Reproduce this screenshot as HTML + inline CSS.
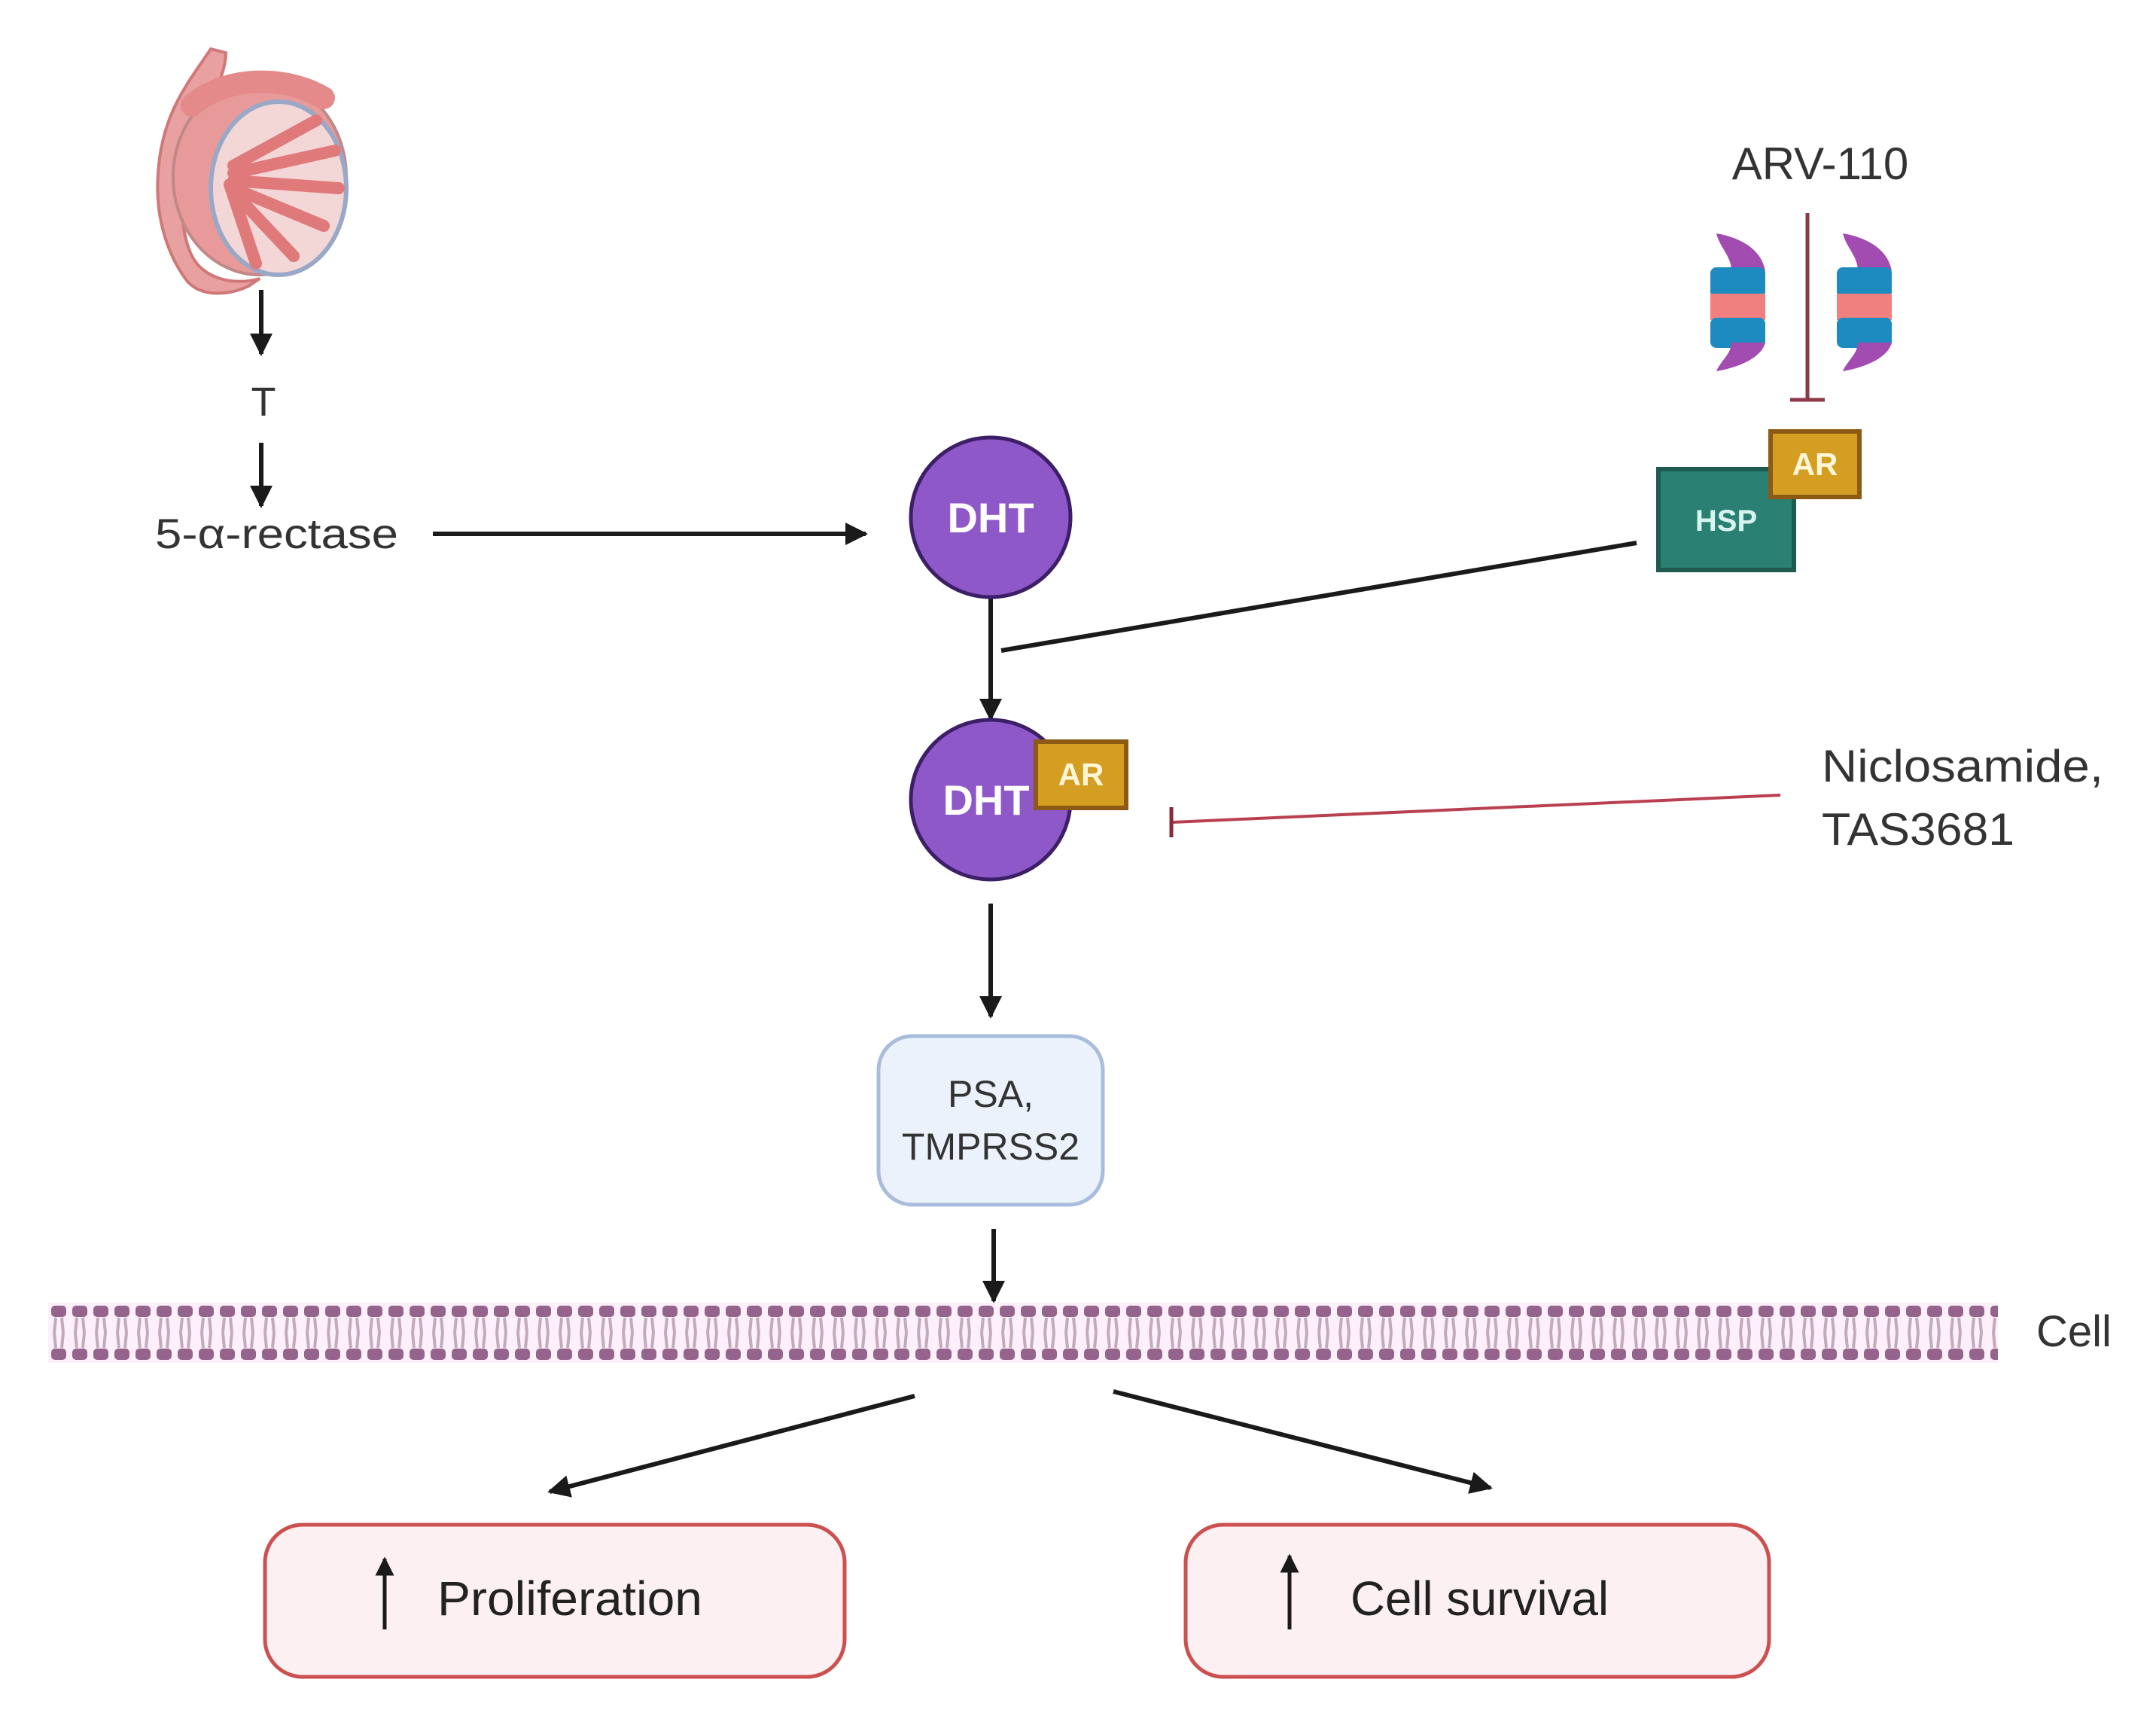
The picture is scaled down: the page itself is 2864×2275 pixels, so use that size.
<!DOCTYPE html>
<html><head><meta charset="utf-8"><style>
html,body{margin:0;padding:0;background:#fff;}
svg{display:block;}
text{font-family:"Liberation Sans",sans-serif;}
</style></head><body>
<svg width="2864" height="2275" viewBox="0 0 2864 2275" xmlns="http://www.w3.org/2000/svg">
<defs>
<marker id="ah" viewBox="0 0 10 10" refX="9" refY="5" markerWidth="5" markerHeight="5" orient="auto" markerUnits="strokeWidth"><path d="M0,0 L10,5 L0,10 z" fill="#1a1a1a"/></marker>
<pattern id="mem" x="64" y="1730" width="28" height="80" patternUnits="userSpaceOnUse">
<rect x="0" y="0" width="28" height="80" fill="#fdf0fa"/>
<rect x="4" y="4" width="20" height="15" rx="5" fill="#94648c"/>
<rect x="4" y="61" width="20" height="15" rx="5" fill="#94648c"/>
<path d="M10,20 L8,40 M18,20 L20,40 M10,60 L8,40 M18,60 L20,40" stroke="#c2aabc" stroke-width="4" fill="none"/>
</pattern>
</defs>

<!-- testis illustration -->
<g>
<path d="M280,65 C250,110 215,150 210,230 C205,300 230,350 250,375 C270,395 305,392 330,380 L345,370 C310,380 270,370 255,340 C235,300 240,230 265,170 C280,130 300,100 300,70 Z" fill="#e8a0a0" stroke="#d07878" stroke-width="4"/>
<ellipse cx="345" cy="235" rx="115" ry="130" fill="#e89a9a" stroke="#c08888" stroke-width="4"/>
<ellipse cx="370" cy="250" rx="90" ry="115" fill="#f3d6d6" stroke="#9aa8c8" stroke-width="6"/>
<g stroke="#e07a7a" stroke-width="16" stroke-linecap="round">
<line x1="310" y1="230" x2="445" y2="200"/><line x1="310" y1="240" x2="450" y2="250"/>
<line x1="310" y1="250" x2="430" y2="300"/><line x1="310" y1="255" x2="390" y2="340"/>
<line x1="310" y1="220" x2="420" y2="160"/><line x1="305" y1="245" x2="340" y2="350"/>
</g>
<path d="M255,140 C300,100 380,100 430,130" stroke="#e48a8a" stroke-width="30" fill="none" stroke-linecap="round"/>
</g>

<!-- arrows -->
<g stroke="#1a1a1a" stroke-width="6" fill="none">
<line x1="347" y1="385" x2="347" y2="470" marker-end="url(#ah)"/>
<line x1="347" y1="588" x2="347" y2="672" marker-end="url(#ah)"/>
<line x1="575" y1="709" x2="1150" y2="709" marker-end="url(#ah)"/>
<line x1="1316" y1="790" x2="1316" y2="955" marker-end="url(#ah)"/>
<line x1="2174" y1="721" x2="1330" y2="864"/>
<line x1="1316" y1="1200" x2="1316" y2="1350" marker-end="url(#ah)"/>
<line x1="1320" y1="1632" x2="1320" y2="1728" marker-end="url(#ah)"/>
<line x1="1215" y1="1854" x2="730" y2="1981" marker-end="url(#ah)"/>
<line x1="1479" y1="1848" x2="1980" y2="1976" marker-end="url(#ah)"/>
</g>
<text x="350" y="552" font-size="54" fill="#333" text-anchor="middle">T</text>
<text x="206" y="728" font-size="56" fill="#333" textLength="323" lengthAdjust="spacingAndGlyphs">5-α-rectase</text>

<!-- DHT -->
<circle cx="1316" cy="687" r="106" fill="#8e58c8" stroke="#3c1f66" stroke-width="5"/>
<text x="1316" y="707" font-size="56" font-weight="bold" fill="#fff" text-anchor="middle">DHT</text>

<!-- DHT-AR -->
<circle cx="1316" cy="1062" r="106" fill="#8e58c8" stroke="#3c1f66" stroke-width="5"/>
<text x="1310" y="1082" font-size="56" font-weight="bold" fill="#fff" text-anchor="middle">DHT</text>
<rect x="1376" y="985" width="120" height="88" fill="#d49e22" stroke="#8c5a14" stroke-width="6"/>
<text x="1436" y="1043" font-size="42" font-weight="bold" fill="#fff6d8" text-anchor="middle">AR</text>

<!-- Niclosamide inhibition -->
<line x1="2365" y1="1056" x2="1558" y2="1092" stroke="#b84050" stroke-width="4"/>
<line x1="1556" y1="1072" x2="1556" y2="1112" stroke="#8c2a3a" stroke-width="5"/>
<text x="2420" y="1038" font-size="60" fill="#333" textLength="374" lengthAdjust="spacingAndGlyphs">Niclosamide,</text>
<text x="2420" y="1122" font-size="60" fill="#333" textLength="256" lengthAdjust="spacingAndGlyphs">TAS3681</text>

<!-- ARV-110 -->
<text x="2418" y="238" font-size="60" fill="#333" text-anchor="middle">ARV-110</text>
<line x1="2401" y1="283" x2="2401" y2="530" stroke="#8c3a48" stroke-width="5"/>
<line x1="2378" y1="531" x2="2424" y2="531" stroke="#8c3a48" stroke-width="5"/>
<g>
<path d="M2280,310 C2310,315 2340,330 2345,360 L2300,360 C2300,340 2285,330 2280,310 Z" fill="#a24bb0"/>
<rect x="2272" y="355" width="73" height="40" rx="8" fill="#1d8ac0"/>
<rect x="2272" y="390" width="73" height="35" fill="#f08080"/>
<rect x="2272" y="422" width="73" height="40" rx="8" fill="#1d8ac0"/>
<path d="M2280,493 C2310,488 2340,475 2345,455 L2300,455 C2300,470 2285,480 2280,493 Z" fill="#a24bb0"/>
<path d="M2448,310 C2478,315 2508,330 2513,360 L2468,360 C2468,340 2453,330 2448,310 Z" fill="#a24bb0"/>
<rect x="2440" y="355" width="73" height="40" rx="8" fill="#1d8ac0"/>
<rect x="2440" y="390" width="73" height="35" fill="#f08080"/>
<rect x="2440" y="422" width="73" height="40" rx="8" fill="#1d8ac0"/>
<path d="M2448,493 C2478,488 2508,475 2513,455 L2468,455 C2468,470 2453,480 2448,493 Z" fill="#a24bb0"/>
</g>

<!-- HSP / AR -->
<rect x="2203" y="623" width="180" height="134" fill="#2a8072" stroke="#1e5a50" stroke-width="6"/>
<text x="2293" y="705" font-size="40" font-weight="bold" fill="#d8f4ee" text-anchor="middle">HSP</text>
<rect x="2352" y="573" width="118" height="87" fill="#d49e22" stroke="#8c5a14" stroke-width="6"/>
<text x="2411" y="631" font-size="42" font-weight="bold" fill="#fff6d8" text-anchor="middle">AR</text>

<!-- PSA box -->
<rect x="1167" y="1376" width="298" height="224" rx="45" fill="#ecf2fc" stroke="#a8bcdc" stroke-width="5"/>
<text x="1316" y="1470" font-size="50" fill="#333" text-anchor="middle">PSA,</text>
<text x="1316" y="1540" font-size="50" fill="#333" text-anchor="middle">TMPRSS2</text>

<!-- membrane -->
<rect x="64" y="1730" width="2590" height="80" fill="url(#mem)"/>
<text x="2705" y="1788" font-size="58" fill="#333">Cell</text>

<!-- result boxes -->
<rect x="352" y="2025" width="770" height="202" rx="50" fill="#fdf0f2" stroke="#cc5050" stroke-width="5"/>
<line x1="511" y1="2164" x2="511" y2="2070" stroke="#1a1a1a" stroke-width="5" marker-end="url(#ah)"/>
<text x="581" y="2145" font-size="64" fill="#222" textLength="352" lengthAdjust="spacingAndGlyphs">Proliferation</text>
<rect x="1575" y="2025" width="775" height="202" rx="50" fill="#fdf0f2" stroke="#cc5050" stroke-width="5"/>
<line x1="1713" y1="2164" x2="1713" y2="2066" stroke="#1a1a1a" stroke-width="5" marker-end="url(#ah)"/>
<text x="1794" y="2145" font-size="64" fill="#222" textLength="343" lengthAdjust="spacingAndGlyphs">Cell survival</text>
</svg>
</body></html>
